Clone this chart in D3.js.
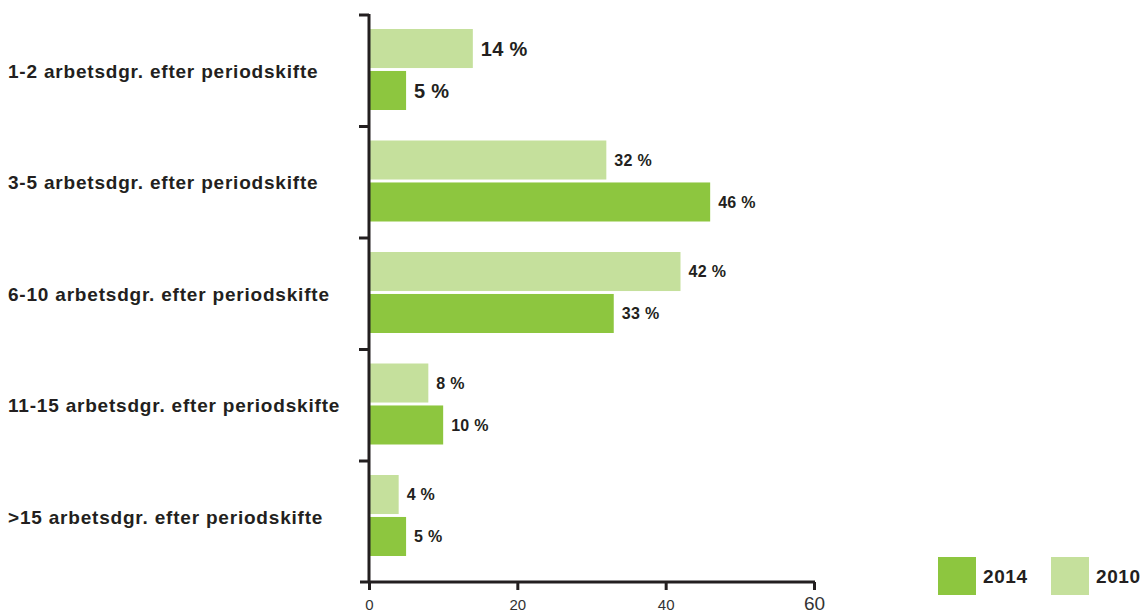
<!DOCTYPE html>
<html>
<head>
<meta charset="utf-8">
<script src="https://cdn.jsdelivr.net/npm/d3@7"></script>
<style>
  body { margin: 0; background: #fff; }
  text { font-family: "Liberation Sans", Arial, sans-serif; fill: #231f20; }
  .catLabel { font-weight: bold; font-size: 19px; letter-spacing: 0.8px; }
  .valLabel { font-weight: bold; font-size: 16px; letter-spacing: 0.3px; }
  .tickLabel { font-size: 15px; fill: #333; }
  .legendText { font-weight: bold; font-size: 19px; letter-spacing: 0.6px; }
</style>
</head>
<body>
<div id="chart"></div>
<script>
// data
var categories = [
  "1-2 arbetsdgr. efter periodskifte",
  "3-5 arbetsdgr. efter periodskifte",
  "6-10 arbetsdgr. efter periodskifte",
  "11-15 arbetsdgr. efter periodskifte",
  ">15 arbetsdgr. efter periodskifte"
];
var series = ["2010", "2014"];
var values2010 = [14, 32, 42, 8, 4];
var values2014 = [5, 46, 33, 10, 5];
var xTicks = [0, 20, 40, 60];

var colors = { "2010": "#c5e09c", "2014": "#8dc63f" };

// svg params
var svgWidth = 1143;
var svgHeight = 613;

var margin = { top: 15, left: 369 };
var chartWidth = 445;
var bandsHeight = 557.5;
var axisY = 567;

var svg = d3.select("#chart").append("svg")
  .attr("width", svgWidth)
  .attr("height", svgHeight);

var chartGroup = svg.append("g")
  .attr("transform", `translate(${margin.left}, ${margin.top})`);

// scales
var xScale = d3.scaleLinear()
  .domain([0, 60])
  .range([0, chartWidth]);

var yScale = d3.scaleBand()
  .domain(categories)
  .range([0, bandsHeight]);

var ySub = d3.scaleBand()
  .domain(series)
  .range([14, 95])
  .paddingInner(0.07);

// build rows
var rows = categories.map(function(c, i) {
  return { cat: c, idx: i, vals: [
    { key: "2010", value: values2010[i] },
    { key: "2014", value: values2014[i] }
  ] };
});

// bars
var rowGroup = chartGroup.selectAll(".row")
  .data(rows)
  .enter()
  .append("g")
  .attr("class", "row")
  .attr("transform", d => `translate(0, ${yScale(d.cat)})`);

rowGroup.selectAll("rect")
  .data(d => d.vals)
  .enter()
  .append("rect")
  .attr("x", xScale(0))
  .attr("y", d => ySub(d.key))
  .attr("width", d => xScale(d.value) - xScale(0))
  .attr("height", ySub.bandwidth())
  .attr("fill", d => colors[d.key]);

// value labels (first group is printed larger)
rowGroup.each(function(r) {
  d3.select(this).selectAll(".valLabel")
    .data(r.vals)
    .enter()
    .append("text")
    .attr("class", "valLabel")
    .attr("x", d => xScale(d.value) + 8)
    .attr("y", d => ySub(d.key) + ySub.bandwidth() / 2)
    .attr("dy", "0.36em")
    .style("font-size", r.idx === 0 ? "20px" : null)
    .text(d => d.value + " %");
});

// category labels
chartGroup.selectAll(".catLabel")
  .data(categories)
  .enter()
  .append("text")
  .attr("class", "catLabel")
  .attr("x", 8 - margin.left)
  .attr("y", d => yScale(d) + yScale.bandwidth() / 2)
  .attr("dy", "0.36em")
  .text(d => d);

// y axis line and ticks at band edges
chartGroup.append("line")
  .attr("x1", 0).attr("x2", 0)
  .attr("y1", -1).attr("y2", axisY)
  .attr("stroke", "#231f20")
  .attr("stroke-width", 3);

chartGroup.selectAll(".yTick")
  .data(categories)
  .enter()
  .append("line")
  .attr("class", "yTick")
  .attr("x1", -10).attr("x2", 0)
  .attr("y1", d => yScale(d)).attr("y2", d => yScale(d))
  .attr("stroke", "#231f20")
  .attr("stroke-width", 3);

// x axis
var xAxis = d3.axisBottom(xScale)
  .tickValues(xTicks)
  .tickSize(8)
  .tickSizeOuter(0)
  .tickPadding(9);

var xAxisGroup = chartGroup.append("g")
  .attr("transform", `translate(0, ${axisY})`)
  .call(xAxis);

xAxisGroup.select(".domain").remove();
xAxisGroup.selectAll(".tick line")
  .attr("stroke", "#231f20")
  .attr("stroke-width", 3);
xAxisGroup.selectAll(".tick text")
  .attr("class", "tickLabel")
  .style("font-family", null)
  .style("font-size", null);
// the last tick label is printed larger in the original
xAxisGroup.selectAll(".tick text")
  .filter(d => d === 60)
  .style("font-size", "19px")
  .attr("dy", "0.6em");

chartGroup.append("line")
  .attr("x1", -9).attr("x2", chartWidth + 1)
  .attr("y1", axisY).attr("y2", axisY)
  .attr("stroke", "#231f20")
  .attr("stroke-width", 3);

// legend
var legend = svg.append("g")
  .attr("transform", "translate(938, 557)");

var legendItems = legend.selectAll("g")
  .data(["2014", "2010"])
  .enter()
  .append("g")
  .attr("transform", (d, i) => `translate(${i * 113}, 0)`);

legendItems.append("rect")
  .attr("width", 38)
  .attr("height", 38)
  .attr("fill", d => colors[d]);

legendItems.append("text")
  .attr("class", "legendText")
  .attr("x", 45)
  .attr("y", 19)
  .attr("dy", "0.36em")
  .text(d => d);
</script>
</body>
</html>
